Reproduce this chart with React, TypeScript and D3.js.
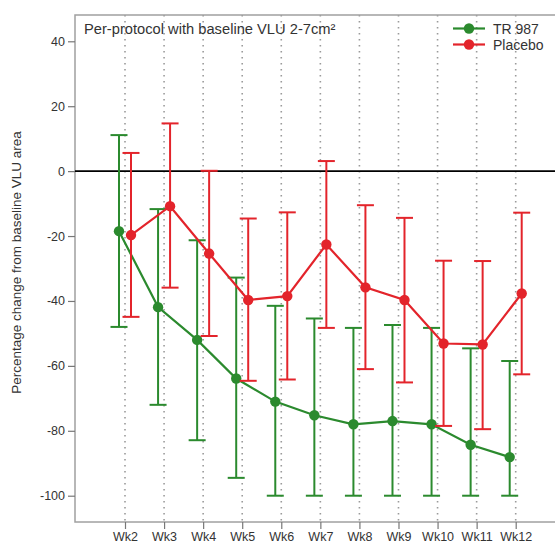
import React, { useRef, useEffect } from "react";
import * as d3 from "d3";

const weeks = ["Wk2", "Wk3", "Wk4", "Wk5", "Wk6", "Wk7", "Wk8", "Wk9", "Wk10", "Wk11", "Wk12"];

// TR 987: mean, upper and lower error bar ends
const trMean = [-18.5, -41.9, -52, -63.9, -71, -75.2, -78, -77, -78, -84.3, -88.1];
const trHigh = [11.1, -11.7, -21.3, -32.8, -41.5, -45.4, -48.3, -47.4, -48.3, -54.6, -58.5];
const trLow = [-48, -72, -82.9, -94.5, -100, -100, -100, -100, -100, -100, -100];

// Placebo
const plMean = [-19.7, -10.8, -25.4, -39.7, -38.5, -22.6, -35.8, -39.7, -53.1, -53.4, -37.7];
const plHigh = [5.6, 14.7, 0.1, -14.6, -12.7, 3.1, -10.5, -14.4, -27.6, -27.7, -12.8];
const plLow = [-44.9, -35.9, -50.8, -64.6, -64.2, -48.3, -61, -65.1, -78.5, -79.5, -62.6];

const yTicks = [40, 20, 0, -20, -40, -60, -80, -100];

const FONT = "'Liberation Sans', Arial, sans-serif";

const App = () => {
  const ref = useRef<SVGSVGElement>(null);

  useEffect(() => {
    const svg = d3.select(ref.current);
    svg.selectAll("*").remove();

    const width = 555;
    const height = 545;
    const left = 75;
    const top = 15;
    const bottom = 522;
    const right = 557;

    svg.attr("width", width).attr("height", height);

    const x = d3.scalePoint().domain(weeks).range([125, 515.7]);
    const y = d3.scaleLinear().domain([-108.1, 48.1]).range([bottom, top]);

    // dotted verticals
    svg
      .append("g")
      .selectAll("line")
      .data(weeks)
      .enter()
      .append("line")
      .attr("x1", (d) => x(d))
      .attr("x2", (d) => x(d))
      .attr("y1", top)
      .attr("y2", bottom)
      .attr("stroke", "#9a9a9a")
      .attr("stroke-width", 1.6)
      .attr("stroke-dasharray", "1.6,4.4");

    // frame
    svg
      .append("rect")
      .attr("x", left)
      .attr("y", top)
      .attr("width", right - left)
      .attr("height", bottom - top)
      .attr("fill", "none")
      .attr("stroke", "#a0a0a0")
      .attr("stroke-width", 1.5);

    // zero line
    svg
      .append("line")
      .attr("x1", left)
      .attr("x2", right)
      .attr("y1", y(0))
      .attr("y2", y(0))
      .attr("stroke", "#000")
      .attr("stroke-width", 1.6);

    // y axis
    const yAxis = svg
      .append("g")
      .attr("transform", `translate(${left},0)`)
      .call(
        d3
          .axisLeft(y)
          .tickValues(yTicks)
          .tickFormat((d) => String(d))
          .tickSize(7)
          .tickPadding(3)
      );
    yAxis.select(".domain").remove();
    yAxis.selectAll("line").attr("stroke", "#777").attr("stroke-width", 1.2);
    yAxis
      .selectAll("text")
      .attr("fill", "#333")
      .style("font-family", FONT)
      .style("font-size", "12.5px");

    // x axis
    const xAxis = svg
      .append("g")
      .attr("transform", `translate(0,${bottom})`)
      .call(d3.axisBottom(x).tickSize(7).tickPadding(3));
    xAxis.select(".domain").remove();
    xAxis.selectAll("line").attr("stroke", "#777").attr("stroke-width", 1.2);
    xAxis
      .selectAll("text")
      .attr("fill", "#333")
      .style("font-family", FONT)
      .style("font-size", "12.5px");

    // y label
    svg
      .append("text")
      .attr("transform", `translate(21,${(top + bottom) / 2 - 6}) rotate(-90)`)
      .attr("text-anchor", "middle")
      .style("font-family", FONT)
      .style("font-size", "13.5px")
      .attr("fill", "#333")
      .text("Percentage change from baseline VLU area");

    // title
    svg
      .append("text")
      .attr("x", 84)
      .attr("y", 34)
      .style("font-family", FONT)
      .style("font-size", "14.7px")
      .attr("fill", "#333")
      .text("Per-protocol with baseline VLU 2-7cm²");

    const series = [
      { name: "TR 987", color: "#2b8a2e", mean: trMean, hi: trHigh, lo: trLow, dx: -6 },
      { name: "Placebo", color: "#e3242b", mean: plMean, hi: plHigh, lo: plLow, dx: 6 },
    ];

    series.forEach((s) => {
      const g = svg.append("g");
      const rows = weeks.map((w, i) => ({ w, m: s.mean[i], hi: s.hi[i], lo: s.lo[i] }));
      const cx = (w) => x(w) + s.dx;

      g.selectAll(".bar")
        .data(rows)
        .enter()
        .append("line")
        .attr("x1", (d) => cx(d.w))
        .attr("x2", (d) => cx(d.w))
        .attr("y1", (d) => y(d.hi))
        .attr("y2", (d) => y(d.lo))
        .attr("stroke", s.color)
        .attr("stroke-width", 2);

      ["hi", "lo"].forEach((k) => {
        g.selectAll(".cap-" + k)
          .data(rows)
          .enter()
          .append("line")
          .attr("x1", (d) => cx(d.w) - 8.5)
          .attr("x2", (d) => cx(d.w) + 8.5)
          .attr("y1", (d) => y(d[k]))
          .attr("y2", (d) => y(d[k]))
          .attr("stroke", s.color)
          .attr("stroke-width", 2);
      });

      const line = d3
        .line<number>()
        .x((d, i) => cx(weeks[i]))
        .y((d) => y(d));

      g.append("path")
        .datum(s.mean)
        .attr("d", line)
        .attr("fill", "none")
        .attr("stroke", s.color)
        .attr("stroke-width", 2.2);

      g.selectAll("circle")
        .data(rows)
        .enter()
        .append("circle")
        .attr("cx", (d) => cx(d.w))
        .attr("cy", (d) => y(d.m))
        .attr("r", 5.2)
        .attr("fill", s.color);
    });

    // legend
    const legend = svg.append("g");
    series.forEach((s, i) => {
      const ly = 28.5 + i * 16;
      legend
        .append("line")
        .attr("x1", 453)
        .attr("x2", 485)
        .attr("y1", ly)
        .attr("y2", ly)
        .attr("stroke", s.color)
        .attr("stroke-width", 2.2);
      legend
        .append("circle")
        .attr("cx", 469)
        .attr("cy", ly)
        .attr("r", 5.2)
        .attr("fill", s.color);
      legend
        .append("text")
        .attr("x", 493)
        .attr("y", ly + 5)
        .style("font-family", FONT)
        .style("font-size", "14px")
        .attr("fill", "#333")
        .text(s.name);
    });
  }, []);

  return <svg ref={ref} style={{ position: "absolute", left: 0, top: 0, display: "block" }} />;
};

export default App;
